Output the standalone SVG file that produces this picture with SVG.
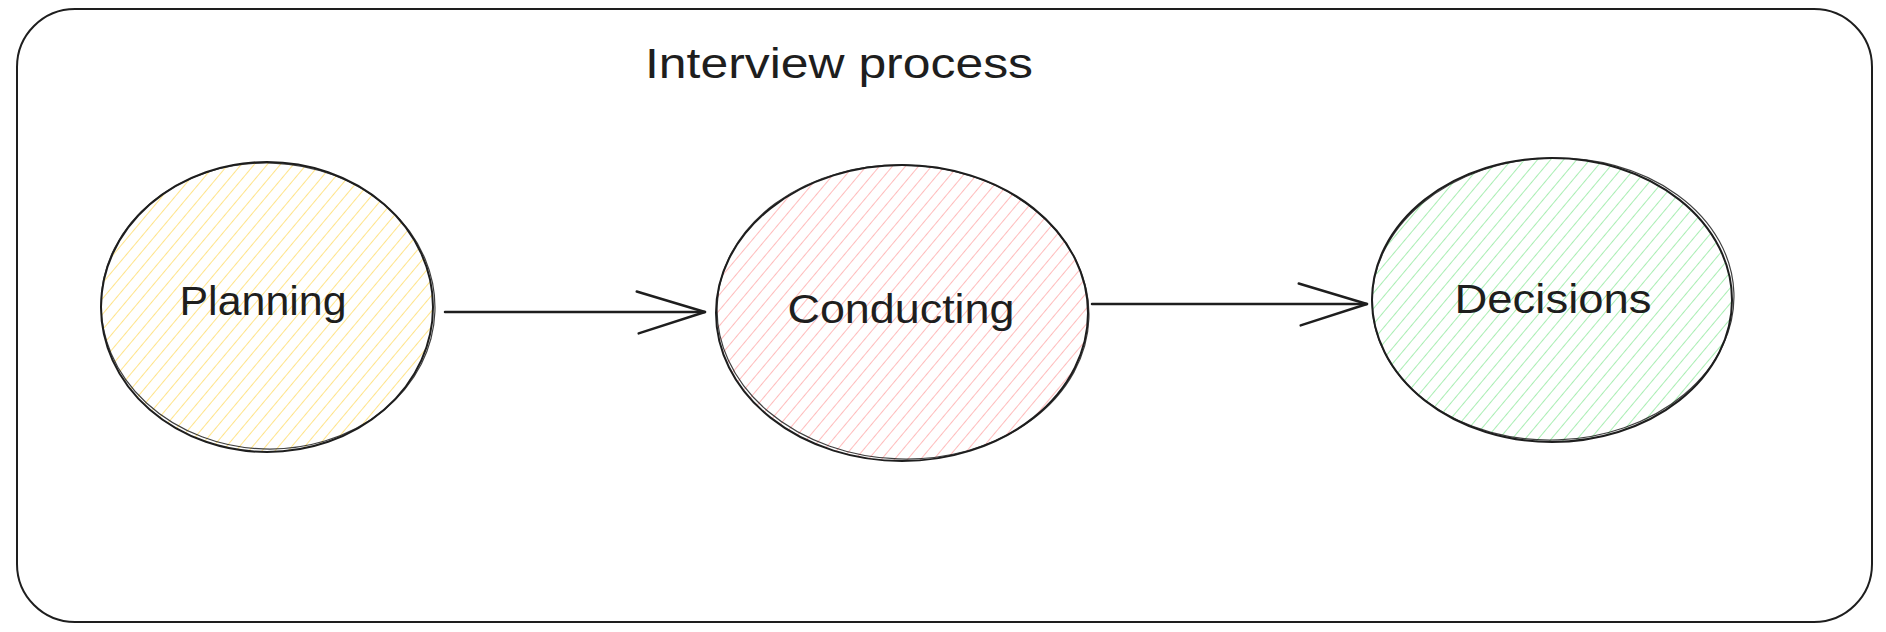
<svg xmlns="http://www.w3.org/2000/svg" width="1886" height="632" viewBox="0 0 1886 632">
  <style>
    .frame { fill: #ffffff; stroke: #1e1e1e; stroke-width: 2; }
    .outline { fill: none; stroke: #1e1e1e; stroke-width: 2; stroke-linecap: round; }
    .outline2 { fill: none; stroke: #1e1e1e; stroke-width: 1.2; opacity: 0.85; }
    .label { font-family: "Liberation Sans", Arial, sans-serif; font-size: 40px; fill: #1e1e1e; text-anchor: middle; }
    .title { font-family: "Liberation Sans", Arial, sans-serif; font-size: 42px; fill: #1e1e1e; text-anchor: middle; }
    .conn { fill: none; stroke: #1e1e1e; stroke-width: 2.5; stroke-linecap: round; }
  </style>
  <defs>
    <pattern id="hatchY" patternUnits="userSpaceOnUse" width="10" height="10" patternTransform="rotate(40)">
      <line x1="0" y1="0" x2="0" y2="10" stroke="#ffe48a" stroke-width="2"/>
    </pattern>
    <pattern id="hatchR" patternUnits="userSpaceOnUse" width="10" height="10" patternTransform="rotate(40)">
      <line x1="0" y1="0" x2="0" y2="10" stroke="#ffbcbc" stroke-width="2"/>
    </pattern>
    <pattern id="hatchG" patternUnits="userSpaceOnUse" width="10" height="10" patternTransform="rotate(40)">
      <line x1="0" y1="0" x2="0" y2="10" stroke="#a9eeb3" stroke-width="2"/>
    </pattern>
    <marker id="head" markerUnits="userSpaceOnUse" markerWidth="80" markerHeight="50" refX="0" refY="0" viewBox="-80 -25 82 50" orient="auto" overflow="visible">
      <path d="M-70,-21 L0,0 L-68,22" fill="none" stroke="#1e1e1e" stroke-width="2.5" stroke-linecap="round" stroke-linejoin="round"/>
    </marker>
  </defs>

  <rect width="1886" height="632" fill="#ffffff"/>

  <g id="frame">
    <rect class="frame" x="17" y="9" width="1855" height="613" rx="58" ry="58"/>
    <text class="title" x="839" y="78" textLength="388" lengthAdjust="spacingAndGlyphs">Interview process</text>
  </g>

  <g id="planning">
    <ellipse cx="267" cy="307" rx="166" ry="145" fill="url(#hatchY)"/>
    <ellipse class="outline" cx="267" cy="307" rx="166" ry="145"/>
    <ellipse class="outline2" cx="268" cy="306" rx="167" ry="143" transform="rotate(2 268 306)"/>
    <text class="label" x="263" y="315" textLength="167" lengthAdjust="spacingAndGlyphs">Planning</text>
  </g>

  <g id="conducting">
    <ellipse cx="902" cy="313" rx="186" ry="148" fill="url(#hatchR)"/>
    <ellipse class="outline" cx="902" cy="313" rx="186" ry="148"/>
    <ellipse class="outline2" cx="903" cy="312" rx="186" ry="147" transform="rotate(2 903 312)"/>
    <text class="label" x="901" y="323" textLength="227" lengthAdjust="spacingAndGlyphs">Conducting</text>
  </g>

  <g id="decisions">
    <ellipse cx="1552" cy="300" rx="180" ry="142" fill="url(#hatchG)"/>
    <ellipse class="outline" cx="1552" cy="300" rx="180" ry="142"/>
    <ellipse class="outline2" cx="1553" cy="299" rx="181" ry="141" transform="rotate(-2 1553 299)"/>
    <text class="label" x="1553" y="313" textLength="197" lengthAdjust="spacingAndGlyphs">Decisions</text>
  </g>

  <g id="connectors">
    <path class="conn" d="M445,312 L705,312" marker-end="url(#head)"/>
    <path class="conn" d="M1092,304 L1367,304" marker-end="url(#head)"/>
  </g>
</svg>
